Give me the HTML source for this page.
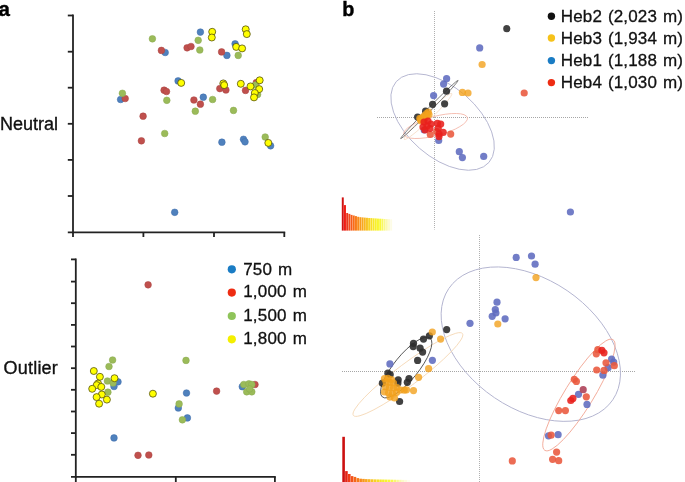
<!DOCTYPE html>
<html><head><meta charset="utf-8"><style>
html,body{margin:0;padding:0;background:#fff;}
body{width:685px;height:482px;position:relative;overflow:hidden;font-family:"Liberation Sans",sans-serif;}
text{font-family:"Liberation Sans",sans-serif;}
</style></head><body>
<svg width="685" height="482" viewBox="0 0 685 482" style="position:absolute;left:0;top:0;will-change:transform">
<rect width="685" height="482" fill="#ffffff"/>
<text x="-1.5" y="15.6" font-weight="bold" font-size="20.5" fill="#000" stroke="#000" stroke-width="0.4">a</text>
<text x="342.2" y="15.7" font-weight="bold" font-size="19.8" fill="#000" stroke="#000" stroke-width="0.4">b</text>
<text x="0.0" y="129.7" font-size="18" fill="#111" stroke="#111" stroke-width="0.35">Neutral</text>
<text x="3.6" y="373.9" font-size="18" letter-spacing="0.2" fill="#111" stroke="#111" stroke-width="0.35">Outlier</text>
<g stroke="#222" stroke-width="1.8" fill="none">
<line x1="73" y1="14.6" x2="73" y2="233.2"/>
<line x1="67.8" y1="15.5" x2="73" y2="15.5"/>
<line x1="67.8" y1="51.7" x2="73" y2="51.7"/>
<line x1="67.8" y1="87.7" x2="73" y2="87.7"/>
<line x1="67.8" y1="123.8" x2="73" y2="123.8"/>
<line x1="67.8" y1="159.9" x2="73" y2="159.9"/>
<line x1="67.8" y1="196.0" x2="73" y2="196.0"/>
<line x1="67.8" y1="232.3" x2="285.2" y2="232.3"/>
<line x1="73" y1="232.3" x2="73" y2="237"/>
<line x1="143.4" y1="232.3" x2="143.4" y2="237"/>
<line x1="214.0" y1="232.3" x2="214.0" y2="237"/>
<line x1="284.3" y1="232.3" x2="284.3" y2="237"/>
</g>
<g stroke="#222" stroke-width="1.8" fill="none">
<line x1="75.8" y1="258.5" x2="75.8" y2="477.8"/>
<line x1="71" y1="259.4" x2="75.8" y2="259.4"/>
<line x1="71" y1="281.6" x2="75.8" y2="281.6"/>
<line x1="71" y1="303.2" x2="75.8" y2="303.2"/>
<line x1="71" y1="324.9" x2="75.8" y2="324.9"/>
<line x1="71" y1="346.5" x2="75.8" y2="346.5"/>
<line x1="71" y1="368.2" x2="75.8" y2="368.2"/>
<line x1="71" y1="389.8" x2="75.8" y2="389.8"/>
<line x1="71" y1="411.5" x2="75.8" y2="411.5"/>
<line x1="71" y1="433.1" x2="75.8" y2="433.1"/>
<line x1="71" y1="454.8" x2="75.8" y2="454.8"/>
<line x1="71" y1="476.9" x2="275.8" y2="476.9"/>
<line x1="75.8" y1="476.9" x2="75.8" y2="483"/>
<line x1="175.8" y1="476.9" x2="175.8" y2="483"/>
<line x1="274.9" y1="476.9" x2="274.9" y2="483"/>
</g>
<circle cx="174.7" cy="212.3" r="3.35" fill="#4F81BD" stroke="#3f6dab" stroke-width="0.5"/>
<circle cx="120.6" cy="99.5" r="3.35" fill="#4F81BD" stroke="#3f6dab" stroke-width="0.5"/>
<circle cx="165.2" cy="52.5" r="3.35" fill="#4F81BD" stroke="#3f6dab" stroke-width="0.5"/>
<circle cx="200.4" cy="32.1" r="3.35" fill="#4F81BD" stroke="#3f6dab" stroke-width="0.5"/>
<circle cx="235.1" cy="43.8" r="3.35" fill="#4F81BD" stroke="#3f6dab" stroke-width="0.5"/>
<circle cx="226.9" cy="55.4" r="3.35" fill="#4F81BD" stroke="#3f6dab" stroke-width="0.5"/>
<circle cx="178.1" cy="80.9" r="3.35" fill="#4F81BD" stroke="#3f6dab" stroke-width="0.5"/>
<circle cx="203.3" cy="97.2" r="3.35" fill="#4F81BD" stroke="#3f6dab" stroke-width="0.5"/>
<circle cx="221.9" cy="142.2" r="3.35" fill="#4F81BD" stroke="#3f6dab" stroke-width="0.5"/>
<circle cx="243.5" cy="139.3" r="3.35" fill="#4F81BD" stroke="#3f6dab" stroke-width="0.5"/>
<circle cx="245.0" cy="141.8" r="3.35" fill="#4F81BD" stroke="#3f6dab" stroke-width="0.5"/>
<circle cx="270.6" cy="145.8" r="3.35" fill="#4F81BD" stroke="#3f6dab" stroke-width="0.5"/>
<circle cx="161.4" cy="50.4" r="3.35" fill="#C0504D" stroke="#a94442" stroke-width="0.5"/>
<circle cx="187.1" cy="47.8" r="3.35" fill="#C0504D" stroke="#a94442" stroke-width="0.5"/>
<circle cx="191.0" cy="46.5" r="3.35" fill="#C0504D" stroke="#a94442" stroke-width="0.5"/>
<circle cx="221.6" cy="51.9" r="3.35" fill="#C0504D" stroke="#a94442" stroke-width="0.5"/>
<circle cx="125.2" cy="98.5" r="3.35" fill="#C0504D" stroke="#a94442" stroke-width="0.5"/>
<circle cx="164.1" cy="90.2" r="3.35" fill="#C0504D" stroke="#a94442" stroke-width="0.5"/>
<circle cx="166.5" cy="91.5" r="3.35" fill="#C0504D" stroke="#a94442" stroke-width="0.5"/>
<circle cx="193.9" cy="100.0" r="3.35" fill="#C0504D" stroke="#a94442" stroke-width="0.5"/>
<circle cx="200.4" cy="104.2" r="3.35" fill="#C0504D" stroke="#a94442" stroke-width="0.5"/>
<circle cx="143.1" cy="116.2" r="3.35" fill="#C0504D" stroke="#a94442" stroke-width="0.5"/>
<circle cx="141.4" cy="140.8" r="3.35" fill="#C0504D" stroke="#a94442" stroke-width="0.5"/>
<circle cx="219.8" cy="88.6" r="3.35" fill="#C0504D" stroke="#a94442" stroke-width="0.5"/>
<circle cx="225.9" cy="90.0" r="3.35" fill="#C0504D" stroke="#a94442" stroke-width="0.5"/>
<circle cx="245.5" cy="90.4" r="3.35" fill="#C0504D" stroke="#a94442" stroke-width="0.5"/>
<circle cx="256.3" cy="82.6" r="3.35" fill="#C0504D" stroke="#a94442" stroke-width="0.5"/>
<circle cx="152.4" cy="38.8" r="3.35" fill="#9BBB59" stroke="#89a94f" stroke-width="0.5"/>
<circle cx="198.2" cy="40.3" r="3.35" fill="#9BBB59" stroke="#89a94f" stroke-width="0.5"/>
<circle cx="199.8" cy="50.0" r="3.35" fill="#9BBB59" stroke="#89a94f" stroke-width="0.5"/>
<circle cx="238.2" cy="55.4" r="3.35" fill="#9BBB59" stroke="#89a94f" stroke-width="0.5"/>
<circle cx="122.4" cy="93.3" r="3.35" fill="#9BBB59" stroke="#89a94f" stroke-width="0.5"/>
<circle cx="166.8" cy="100.3" r="3.35" fill="#9BBB59" stroke="#89a94f" stroke-width="0.5"/>
<circle cx="195.3" cy="111.2" r="3.35" fill="#9BBB59" stroke="#89a94f" stroke-width="0.5"/>
<circle cx="212.6" cy="99.5" r="3.35" fill="#9BBB59" stroke="#89a94f" stroke-width="0.5"/>
<circle cx="164.7" cy="133.5" r="3.35" fill="#9BBB59" stroke="#89a94f" stroke-width="0.5"/>
<circle cx="233.5" cy="110.4" r="3.35" fill="#9BBB59" stroke="#89a94f" stroke-width="0.5"/>
<circle cx="255.5" cy="85.0" r="3.35" fill="#9BBB59" stroke="#89a94f" stroke-width="0.5"/>
<circle cx="257.6" cy="94.5" r="3.35" fill="#9BBB59" stroke="#89a94f" stroke-width="0.5"/>
<circle cx="265.2" cy="137.0" r="3.35" fill="#9BBB59" stroke="#89a94f" stroke-width="0.5"/>
<circle cx="212.2" cy="31.8" r="3.5" fill="#FFFF00" stroke="#55520f" stroke-width="0.8"/>
<circle cx="211.8" cy="37.5" r="3.5" fill="#FFFF00" stroke="#55520f" stroke-width="0.8"/>
<circle cx="245.7" cy="29.3" r="3.5" fill="#FFFF00" stroke="#55520f" stroke-width="0.8"/>
<circle cx="246.8" cy="34.1" r="3.5" fill="#FFFF00" stroke="#55520f" stroke-width="0.8"/>
<circle cx="236.2" cy="46.9" r="3.5" fill="#FFFF00" stroke="#55520f" stroke-width="0.8"/>
<circle cx="242.1" cy="48.4" r="3.5" fill="#FFFF00" stroke="#55520f" stroke-width="0.8"/>
<circle cx="181.2" cy="82.9" r="3.5" fill="#FFFF00" stroke="#55520f" stroke-width="0.8"/>
<circle cx="223.3" cy="83.4" r="3.5" fill="#FFFF00" stroke="#55520f" stroke-width="0.8"/>
<circle cx="224.2" cy="85.1" r="3.5" fill="#FFFF00" stroke="#55520f" stroke-width="0.8"/>
<circle cx="240.8" cy="83.8" r="3.5" fill="#FFFF00" stroke="#55520f" stroke-width="0.8"/>
<circle cx="250.5" cy="86.4" r="3.5" fill="#FFFF00" stroke="#55520f" stroke-width="0.8"/>
<circle cx="259.7" cy="80.3" r="3.5" fill="#FFFF00" stroke="#55520f" stroke-width="0.8"/>
<circle cx="259.2" cy="89.1" r="3.5" fill="#FFFF00" stroke="#55520f" stroke-width="0.8"/>
<circle cx="254.8" cy="93.0" r="3.5" fill="#FFFF00" stroke="#55520f" stroke-width="0.8"/>
<circle cx="254.0" cy="97.4" r="3.5" fill="#FFFF00" stroke="#55520f" stroke-width="0.8"/>
<circle cx="268.3" cy="142.9" r="3.5" fill="#FFFF00" stroke="#55520f" stroke-width="0.8"/>
<circle cx="118.0" cy="381.8" r="3.35" fill="#4F81BD" stroke="#3f6dab" stroke-width="0.5"/>
<circle cx="114.0" cy="386.5" r="3.35" fill="#4F81BD" stroke="#3f6dab" stroke-width="0.5"/>
<circle cx="114.0" cy="437.9" r="3.35" fill="#4F81BD" stroke="#3f6dab" stroke-width="0.5"/>
<circle cx="186.5" cy="393.0" r="3.35" fill="#4F81BD" stroke="#3f6dab" stroke-width="0.5"/>
<circle cx="178.3" cy="408.0" r="3.35" fill="#4F81BD" stroke="#3f6dab" stroke-width="0.5"/>
<circle cx="187.4" cy="417.9" r="3.35" fill="#4F81BD" stroke="#3f6dab" stroke-width="0.5"/>
<circle cx="242.3" cy="386.7" r="3.35" fill="#4F81BD" stroke="#3f6dab" stroke-width="0.5"/>
<circle cx="148.1" cy="284.8" r="3.35" fill="#C0504D" stroke="#a94442" stroke-width="0.5"/>
<circle cx="138.0" cy="455.3" r="3.35" fill="#C0504D" stroke="#a94442" stroke-width="0.5"/>
<circle cx="148.8" cy="455.0" r="3.35" fill="#C0504D" stroke="#a94442" stroke-width="0.5"/>
<circle cx="216.6" cy="391.1" r="3.35" fill="#C0504D" stroke="#a94442" stroke-width="0.5"/>
<circle cx="255.0" cy="384.5" r="3.35" fill="#C0504D" stroke="#a94442" stroke-width="0.5"/>
<circle cx="112.6" cy="360.0" r="3.35" fill="#9BBB59" stroke="#89a94f" stroke-width="0.5"/>
<circle cx="109.0" cy="366.5" r="3.35" fill="#9BBB59" stroke="#89a94f" stroke-width="0.5"/>
<circle cx="107.4" cy="381.0" r="3.35" fill="#9BBB59" stroke="#89a94f" stroke-width="0.5"/>
<circle cx="113.0" cy="383.0" r="3.35" fill="#9BBB59" stroke="#89a94f" stroke-width="0.5"/>
<circle cx="107.9" cy="392.2" r="3.35" fill="#9BBB59" stroke="#89a94f" stroke-width="0.5"/>
<circle cx="186.0" cy="360.4" r="3.35" fill="#9BBB59" stroke="#89a94f" stroke-width="0.5"/>
<circle cx="179.1" cy="403.9" r="3.35" fill="#9BBB59" stroke="#89a94f" stroke-width="0.5"/>
<circle cx="182.4" cy="419.8" r="3.35" fill="#9BBB59" stroke="#89a94f" stroke-width="0.5"/>
<circle cx="243.8" cy="384.5" r="3.35" fill="#9BBB59" stroke="#89a94f" stroke-width="0.5"/>
<circle cx="248.9" cy="383.8" r="3.35" fill="#9BBB59" stroke="#89a94f" stroke-width="0.5"/>
<circle cx="251.8" cy="384.5" r="3.35" fill="#9BBB59" stroke="#89a94f" stroke-width="0.5"/>
<circle cx="246.7" cy="391.8" r="3.35" fill="#9BBB59" stroke="#89a94f" stroke-width="0.5"/>
<circle cx="251.8" cy="391.8" r="3.35" fill="#9BBB59" stroke="#89a94f" stroke-width="0.5"/>
<circle cx="249.6" cy="388.9" r="3.35" fill="#9BBB59" stroke="#89a94f" stroke-width="0.5"/>
<circle cx="93.8" cy="371.0" r="3.5" fill="#FFFF00" stroke="#55520f" stroke-width="0.8"/>
<circle cx="99.9" cy="376.8" r="3.5" fill="#FFFF00" stroke="#55520f" stroke-width="0.8"/>
<circle cx="114.5" cy="378.2" r="3.5" fill="#FFFF00" stroke="#55520f" stroke-width="0.8"/>
<circle cx="98.0" cy="383.5" r="3.5" fill="#FFFF00" stroke="#55520f" stroke-width="0.8"/>
<circle cx="96.7" cy="385.1" r="3.5" fill="#FFFF00" stroke="#55520f" stroke-width="0.8"/>
<circle cx="101.3" cy="386.9" r="3.5" fill="#FFFF00" stroke="#55520f" stroke-width="0.8"/>
<circle cx="92.2" cy="388.8" r="3.5" fill="#FFFF00" stroke="#55520f" stroke-width="0.8"/>
<circle cx="101.8" cy="394.5" r="3.5" fill="#FFFF00" stroke="#55520f" stroke-width="0.8"/>
<circle cx="96.6" cy="397.1" r="3.5" fill="#FFFF00" stroke="#55520f" stroke-width="0.8"/>
<circle cx="106.9" cy="399.6" r="3.5" fill="#FFFF00" stroke="#55520f" stroke-width="0.8"/>
<circle cx="99.1" cy="403.7" r="3.5" fill="#FFFF00" stroke="#55520f" stroke-width="0.8"/>
<circle cx="152.9" cy="393.7" r="3.5" fill="#FFFF00" stroke="#55520f" stroke-width="0.8"/>
<circle cx="231.8" cy="269.3" r="4.1" fill="#1a7cc4"/>
<text x="243.2" y="274.5" font-size="17" letter-spacing="0.2" word-spacing="1" fill="#111" stroke="#111" stroke-width="0.3">750 m</text>
<circle cx="231.8" cy="292.6" r="4.1" fill="#ee2c12"/>
<text x="243.2" y="297.3" font-size="17" letter-spacing="0.2" word-spacing="1" fill="#111" stroke="#111" stroke-width="0.3">1,000 m</text>
<circle cx="231.8" cy="316.0" r="4.1" fill="#8fc45a"/>
<text x="243.2" y="320.6" font-size="17" letter-spacing="0.2" word-spacing="1" fill="#111" stroke="#111" stroke-width="0.3">1,500 m</text>
<circle cx="231.8" cy="339.3" r="4.1" fill="#f4ef00"/>
<text x="243.2" y="343.8" font-size="17" letter-spacing="0.2" word-spacing="1" fill="#111" stroke="#111" stroke-width="0.3">1,800 m</text>
<circle cx="551.4" cy="16.3" r="3.7" fill="#111111"/>
<text x="560.8" y="22.0" font-size="17" letter-spacing="0.15" word-spacing="1" fill="#111" stroke="#111" stroke-width="0.3">Heb2 (2,023 m)</text>
<circle cx="551.4" cy="38.0" r="3.7" fill="#f6c21a"/>
<text x="560.8" y="43.7" font-size="17" letter-spacing="0.15" word-spacing="1" fill="#111" stroke="#111" stroke-width="0.3">Heb3 (1,934 m)</text>
<circle cx="551.4" cy="60.6" r="3.7" fill="#1a7cc4"/>
<text x="560.8" y="66.1" font-size="17" letter-spacing="0.15" word-spacing="1" fill="#111" stroke="#111" stroke-width="0.3">Heb1 (1,188 m)</text>
<circle cx="551.4" cy="82.6" r="3.7" fill="#ee2c12"/>
<text x="560.8" y="87.8" font-size="17" letter-spacing="0.15" word-spacing="1" fill="#111" stroke="#111" stroke-width="0.3">Heb4 (1,030 m)</text>
<line x1="434.5" y1="11" x2="434.5" y2="229.5" stroke="#b0b0b0" stroke-width="1" stroke-dasharray="1 1"/>
<line x1="377" y1="117.5" x2="588" y2="117.5" stroke="#a6a6a6" stroke-width="1" stroke-dasharray="1 1"/>
<rect x="341.80" y="197.40" width="1.95" height="33.20" fill="#d01212"/>
<rect x="344.00" y="205.10" width="1.95" height="25.50" fill="#f01c14"/>
<rect x="346.20" y="213.00" width="1.95" height="17.60" fill="#ea381e"/>
<rect x="348.40" y="213.90" width="1.95" height="16.70" fill="#f04a1e"/>
<rect x="350.60" y="214.90" width="1.95" height="15.70" fill="#f65c1a"/>
<rect x="352.80" y="215.50" width="1.95" height="15.10" fill="#f86c18"/>
<rect x="355.00" y="216.10" width="1.95" height="14.50" fill="#f87a18"/>
<rect x="357.20" y="216.80" width="1.95" height="13.80" fill="#f88a1c"/>
<rect x="359.40" y="217.20" width="1.95" height="13.40" fill="#f89a1e"/>
<rect x="361.60" y="217.40" width="1.95" height="13.20" fill="#f8a820"/>
<rect x="363.80" y="217.60" width="1.95" height="13.00" fill="#f8b622"/>
<rect x="366.00" y="217.80" width="1.95" height="12.80" fill="#f8c424"/>
<rect x="368.20" y="218.00" width="1.95" height="12.60" fill="#f8d226"/>
<rect x="370.40" y="218.10" width="1.95" height="12.50" fill="#f8de28"/>
<rect x="372.60" y="218.30" width="1.95" height="12.30" fill="#f8e82a"/>
<rect x="374.80" y="218.40" width="1.95" height="12.20" fill="#f8f02c"/>
<rect x="377.00" y="218.60" width="1.95" height="12.00" fill="#f8f630"/>
<rect x="379.20" y="218.70" width="1.95" height="11.90" fill="#f8f83a"/>
<rect x="381.40" y="218.80" width="1.95" height="11.80" fill="#f9f860"/>
<rect x="383.60" y="219.00" width="1.95" height="11.60" fill="#faf88a"/>
<rect x="385.80" y="219.10" width="1.95" height="11.50" fill="#fbf9b0"/>
<rect x="388.00" y="219.20" width="1.95" height="11.40" fill="#fcfad0"/>
<rect x="390.20" y="219.30" width="1.95" height="11.30" fill="#fdfce6"/>
<ellipse cx="442.6" cy="122.0" rx="61.5" ry="35.0" transform="rotate(41.04 442.6 122.0)" fill="none" stroke="#b4b5d0" stroke-width="0.9"/>
<ellipse cx="435.6" cy="126.0" rx="32.9" ry="9.6" transform="rotate(-14.8 435.6 126.0)" fill="none" stroke="#f4b6a8" stroke-width="0.8"/>
<ellipse cx="428.0" cy="116.5" rx="33" ry="3.5" transform="rotate(-44 428.0 116.5)" fill="none" stroke="#f6dcc4" stroke-width="0.8"/>
<ellipse cx="429.4" cy="109.5" rx="40.9" ry="1.7" transform="rotate(-45.4 429.4 109.5)" fill="none" stroke="#666666" stroke-width="0.8"/>
<circle cx="506.8" cy="28.7" r="3.6" fill="#2e2e2e" fill-opacity="0.9"/>
<circle cx="446.5" cy="91.2" r="3.6" fill="#2e2e2e" fill-opacity="0.9"/>
<circle cx="432.6" cy="104.3" r="3.6" fill="#2e2e2e" fill-opacity="0.9"/>
<circle cx="444.6" cy="103.8" r="3.6" fill="#2e2e2e" fill-opacity="0.9"/>
<circle cx="425.6" cy="111.2" r="3.6" fill="#2e2e2e" fill-opacity="0.9"/>
<circle cx="417.6" cy="117.0" r="3.6" fill="#2e2e2e" fill-opacity="0.9"/>
<circle cx="482.1" cy="64.5" r="3.6" fill="#f2a11d" fill-opacity="0.8"/>
<circle cx="462.4" cy="92.4" r="3.6" fill="#f2a11d" fill-opacity="0.8"/>
<circle cx="468.0" cy="93.0" r="3.6" fill="#f2a11d" fill-opacity="0.8"/>
<circle cx="420.5" cy="119.5" r="3.6" fill="#f2a11d" fill-opacity="0.8"/>
<circle cx="422.5" cy="117.5" r="3.6" fill="#f2a11d" fill-opacity="0.8"/>
<circle cx="424.5" cy="115.5" r="3.6" fill="#f2a11d" fill-opacity="0.8"/>
<circle cx="426.5" cy="113.5" r="3.6" fill="#f2a11d" fill-opacity="0.8"/>
<circle cx="428.3" cy="112.0" r="3.6" fill="#f2a11d" fill-opacity="0.8"/>
<circle cx="423.0" cy="120.0" r="3.6" fill="#f2a11d" fill-opacity="0.8"/>
<circle cx="425.0" cy="118.0" r="3.6" fill="#f2a11d" fill-opacity="0.8"/>
<circle cx="427.0" cy="116.0" r="3.6" fill="#f2a11d" fill-opacity="0.8"/>
<circle cx="429.0" cy="114.5" r="3.6" fill="#f2a11d" fill-opacity="0.8"/>
<circle cx="419.8" cy="118.3" r="3.6" fill="#f2a11d" fill-opacity="0.8"/>
<circle cx="421.0" cy="121.0" r="3.6" fill="#f2a11d" fill-opacity="0.8"/>
<circle cx="479.7" cy="47.9" r="3.6" fill="#5e6bbf" fill-opacity="0.88"/>
<circle cx="446.6" cy="78.7" r="3.6" fill="#5e6bbf" fill-opacity="0.88"/>
<circle cx="443.6" cy="84.1" r="3.6" fill="#5e6bbf" fill-opacity="0.88"/>
<circle cx="433.6" cy="95.6" r="3.6" fill="#5e6bbf" fill-opacity="0.88"/>
<circle cx="424.2" cy="130.0" r="3.6" fill="#5e6bbf" fill-opacity="0.88"/>
<circle cx="438.7" cy="140.5" r="3.6" fill="#5e6bbf" fill-opacity="0.88"/>
<circle cx="459.3" cy="151.7" r="3.6" fill="#5e6bbf" fill-opacity="0.88"/>
<circle cx="462.4" cy="157.6" r="3.6" fill="#5e6bbf" fill-opacity="0.88"/>
<circle cx="483.7" cy="156.4" r="3.6" fill="#5e6bbf" fill-opacity="0.88"/>
<circle cx="570.4" cy="212.0" r="3.6" fill="#5e6bbf" fill-opacity="0.88"/>
<circle cx="524.2" cy="93.0" r="3.6" fill="#e9583c" fill-opacity="0.88"/>
<circle cx="430.3" cy="134.5" r="3.6" fill="#e9583c" fill-opacity="0.88"/>
<circle cx="450.7" cy="134.1" r="3.6" fill="#e9583c" fill-opacity="0.88"/>
<circle cx="436.6" cy="131.6" r="3.6" fill="#e9583c" fill-opacity="0.88"/>
<circle cx="437.4" cy="123.3" r="3.6" fill="#e8201c" fill-opacity="0.88"/>
<circle cx="440.7" cy="124.1" r="3.6" fill="#e8201c" fill-opacity="0.88"/>
<circle cx="438.2" cy="128.3" r="3.6" fill="#e8201c" fill-opacity="0.88"/>
<circle cx="443.2" cy="132.4" r="3.6" fill="#e8201c" fill-opacity="0.88"/>
<circle cx="439.0" cy="134.0" r="3.6" fill="#e8201c" fill-opacity="0.88"/>
<circle cx="439.0" cy="136.6" r="3.6" fill="#e8201c" fill-opacity="0.88"/>
<circle cx="424.0" cy="122.0" r="3.6" fill="#e8201c" fill-opacity="0.88"/>
<circle cx="428.0" cy="121.0" r="3.6" fill="#e8201c" fill-opacity="0.88"/>
<circle cx="423.0" cy="127.0" r="3.6" fill="#e8201c" fill-opacity="0.88"/>
<circle cx="427.0" cy="126.0" r="3.6" fill="#e8201c" fill-opacity="0.88"/>
<circle cx="431.0" cy="124.0" r="3.6" fill="#e8201c" fill-opacity="0.88"/>
<circle cx="425.0" cy="130.0" r="3.6" fill="#e8201c" fill-opacity="0.88"/>
<circle cx="430.0" cy="128.5" r="3.6" fill="#e8201c" fill-opacity="0.88"/>
<line x1="479.5" y1="235" x2="479.5" y2="482" stroke="#b0b0b0" stroke-width="1" stroke-dasharray="1 1"/>
<line x1="342" y1="371.5" x2="635" y2="371.5" stroke="#a6a6a6" stroke-width="1" stroke-dasharray="1 1"/>
<rect x="342.30" y="436.80" width="2.59" height="45.20" fill="#cc1010"/>
<rect x="345.14" y="471.10" width="2.59" height="10.90" fill="#e42416"/>
<rect x="347.98" y="474.00" width="2.59" height="8.00" fill="#ee3c18"/>
<rect x="350.82" y="476.10" width="2.59" height="5.90" fill="#f2521a"/>
<rect x="353.67" y="476.90" width="2.59" height="5.10" fill="#f4661a"/>
<rect x="356.51" y="478.10" width="2.59" height="3.90" fill="#f6781a"/>
<rect x="359.35" y="478.70" width="2.59" height="3.30" fill="#f8881c"/>
<rect x="362.19" y="478.90" width="2.59" height="3.10" fill="#f8981e"/>
<rect x="365.03" y="479.10" width="2.59" height="2.90" fill="#f8a820"/>
<rect x="367.88" y="479.20" width="2.59" height="2.80" fill="#f8b622"/>
<rect x="370.72" y="479.30" width="2.59" height="2.70" fill="#f8c424"/>
<rect x="373.56" y="479.40" width="2.59" height="2.60" fill="#f8d026"/>
<rect x="376.40" y="479.45" width="2.59" height="2.55" fill="#f8dc28"/>
<rect x="379.24" y="479.50" width="2.59" height="2.50" fill="#f8e62a"/>
<rect x="382.08" y="479.55" width="2.59" height="2.45" fill="#f8ee2c"/>
<rect x="384.93" y="479.60" width="2.59" height="2.40" fill="#f8f430"/>
<rect x="387.77" y="479.65" width="2.59" height="2.35" fill="#f8f63c"/>
<rect x="390.61" y="479.70" width="2.59" height="2.30" fill="#f9f750"/>
<rect x="393.45" y="479.75" width="2.59" height="2.25" fill="#f9f770"/>
<rect x="396.29" y="479.80" width="2.59" height="2.20" fill="#faf890"/>
<rect x="399.13" y="479.80" width="2.59" height="2.20" fill="#fbf9b0"/>
<rect x="401.98" y="479.90" width="2.59" height="2.10" fill="#fcfac8"/>
<rect x="404.82" y="479.90" width="2.59" height="2.10" fill="#fdfbdc"/>
<rect x="407.66" y="480.00" width="2.59" height="2.00" fill="#fefdee"/>
<ellipse cx="530.8" cy="344.15" rx="99.1" ry="64.7" transform="rotate(34.16 530.8 344.15)" fill="none" stroke="#b4b5d0" stroke-width="0.9"/>
<ellipse cx="407.9" cy="374.5" rx="68.2" ry="11.0" transform="rotate(-36.9 407.9 374.5)" fill="none" stroke="#f5d8b6" stroke-width="0.85"/>
<ellipse cx="406.2" cy="367.5" rx="37.9" ry="12.2" transform="rotate(-50.96 406.2 367.5)" fill="none" stroke="#4a4a4a" stroke-width="0.85"/>
<ellipse cx="578.9" cy="395.0" rx="65.0" ry="14.3" transform="rotate(-58.4 578.9 395.0)" fill="none" stroke="#f2a896" stroke-width="0.85"/>
<circle cx="446.7" cy="329.6" r="3.6" fill="#2e2e2e" fill-opacity="0.9"/>
<circle cx="429.4" cy="335.8" r="3.6" fill="#2e2e2e" fill-opacity="0.9"/>
<circle cx="423.5" cy="339.1" r="3.6" fill="#2e2e2e" fill-opacity="0.9"/>
<circle cx="413.5" cy="343.3" r="3.6" fill="#2e2e2e" fill-opacity="0.9"/>
<circle cx="413.2" cy="346.6" r="3.6" fill="#2e2e2e" fill-opacity="0.9"/>
<circle cx="420.1" cy="348.2" r="3.6" fill="#2e2e2e" fill-opacity="0.9"/>
<circle cx="422.6" cy="352.1" r="3.6" fill="#2e2e2e" fill-opacity="0.9"/>
<circle cx="417.6" cy="360.4" r="3.6" fill="#2e2e2e" fill-opacity="0.9"/>
<circle cx="387.9" cy="373.2" r="3.6" fill="#2e2e2e" fill-opacity="0.9"/>
<circle cx="390.2" cy="374.5" r="3.6" fill="#2e2e2e" fill-opacity="0.9"/>
<circle cx="382.4" cy="383.2" r="3.6" fill="#2e2e2e" fill-opacity="0.9"/>
<circle cx="398.2" cy="379.8" r="3.6" fill="#2e2e2e" fill-opacity="0.9"/>
<circle cx="397.9" cy="383.1" r="3.6" fill="#2e2e2e" fill-opacity="0.9"/>
<circle cx="409.0" cy="378.5" r="3.6" fill="#2e2e2e" fill-opacity="0.9"/>
<circle cx="407.3" cy="382.3" r="3.6" fill="#2e2e2e" fill-opacity="0.9"/>
<circle cx="399.6" cy="401.5" r="3.6" fill="#2e2e2e" fill-opacity="0.9"/>
<circle cx="536.0" cy="277.6" r="3.6" fill="#f2a11d" fill-opacity="0.8"/>
<circle cx="497.8" cy="324.0" r="3.6" fill="#f2a11d" fill-opacity="0.8"/>
<circle cx="432.3" cy="332.0" r="3.6" fill="#f2a11d" fill-opacity="0.8"/>
<circle cx="440.6" cy="339.1" r="3.6" fill="#f2a11d" fill-opacity="0.8"/>
<circle cx="428.6" cy="368.7" r="3.6" fill="#f2a11d" fill-opacity="0.8"/>
<circle cx="418.6" cy="377.3" r="3.6" fill="#f2a11d" fill-opacity="0.8"/>
<circle cx="406.5" cy="389.8" r="3.6" fill="#f2a11d" fill-opacity="0.8"/>
<circle cx="413.5" cy="390.6" r="3.6" fill="#f2a11d" fill-opacity="0.8"/>
<circle cx="384.5" cy="378.5" r="3.6" fill="#f2a11d" fill-opacity="0.8"/>
<circle cx="388.0" cy="378.3" r="3.6" fill="#f2a11d" fill-opacity="0.8"/>
<circle cx="391.5" cy="379.5" r="3.6" fill="#f2a11d" fill-opacity="0.8"/>
<circle cx="386.0" cy="382.0" r="3.6" fill="#f2a11d" fill-opacity="0.8"/>
<circle cx="390.0" cy="382.5" r="3.6" fill="#f2a11d" fill-opacity="0.8"/>
<circle cx="393.5" cy="383.0" r="3.6" fill="#f2a11d" fill-opacity="0.8"/>
<circle cx="385.5" cy="387.0" r="3.6" fill="#f2a11d" fill-opacity="0.8"/>
<circle cx="389.5" cy="387.5" r="3.6" fill="#f2a11d" fill-opacity="0.8"/>
<circle cx="393.5" cy="388.0" r="3.6" fill="#f2a11d" fill-opacity="0.8"/>
<circle cx="397.0" cy="387.5" r="3.6" fill="#f2a11d" fill-opacity="0.8"/>
<circle cx="384.5" cy="392.0" r="3.6" fill="#f2a11d" fill-opacity="0.8"/>
<circle cx="388.5" cy="393.0" r="3.6" fill="#f2a11d" fill-opacity="0.8"/>
<circle cx="392.5" cy="393.5" r="3.6" fill="#f2a11d" fill-opacity="0.8"/>
<circle cx="396.5" cy="392.5" r="3.6" fill="#f2a11d" fill-opacity="0.8"/>
<circle cx="390.0" cy="397.0" r="3.6" fill="#f2a11d" fill-opacity="0.8"/>
<circle cx="394.5" cy="398.0" r="3.6" fill="#f2a11d" fill-opacity="0.8"/>
<circle cx="400.5" cy="390.0" r="3.6" fill="#f2a11d" fill-opacity="0.8"/>
<circle cx="404.2" cy="390.2" r="3.6" fill="#f2a11d" fill-opacity="0.8"/>
<circle cx="516.2" cy="257.4" r="3.6" fill="#5e6bbf" fill-opacity="0.88"/>
<circle cx="531.5" cy="256.0" r="3.6" fill="#5e6bbf" fill-opacity="0.88"/>
<circle cx="535.1" cy="264.2" r="3.6" fill="#5e6bbf" fill-opacity="0.88"/>
<circle cx="497.0" cy="302.2" r="3.6" fill="#5e6bbf" fill-opacity="0.88"/>
<circle cx="495.3" cy="309.5" r="3.6" fill="#5e6bbf" fill-opacity="0.88"/>
<circle cx="495.9" cy="313.0" r="3.6" fill="#5e6bbf" fill-opacity="0.88"/>
<circle cx="492.2" cy="316.3" r="3.6" fill="#5e6bbf" fill-opacity="0.88"/>
<circle cx="505.1" cy="318.8" r="3.6" fill="#5e6bbf" fill-opacity="0.88"/>
<circle cx="470.0" cy="323.3" r="3.6" fill="#5e6bbf" fill-opacity="0.88"/>
<circle cx="389.9" cy="363.9" r="3.6" fill="#5e6bbf" fill-opacity="0.88"/>
<circle cx="432.4" cy="360.3" r="3.6" fill="#5e6bbf" fill-opacity="0.88"/>
<circle cx="611.6" cy="359.0" r="3.6" fill="#5e6bbf" fill-opacity="0.88"/>
<circle cx="613.7" cy="362.1" r="3.6" fill="#5e6bbf" fill-opacity="0.88"/>
<circle cx="608.1" cy="367.7" r="3.6" fill="#5e6bbf" fill-opacity="0.88"/>
<circle cx="602.9" cy="375.2" r="3.6" fill="#5e6bbf" fill-opacity="0.88"/>
<circle cx="578.5" cy="394.3" r="3.6" fill="#5e6bbf" fill-opacity="0.88"/>
<circle cx="587.0" cy="404.4" r="3.6" fill="#5e6bbf" fill-opacity="0.88"/>
<circle cx="548.5" cy="435.8" r="3.6" fill="#5e6bbf" fill-opacity="0.88"/>
<circle cx="558.1" cy="434.7" r="3.6" fill="#5e6bbf" fill-opacity="0.88"/>
<circle cx="597.8" cy="349.7" r="3.6" fill="#e9583c" fill-opacity="0.88"/>
<circle cx="596.3" cy="353.8" r="3.6" fill="#e9583c" fill-opacity="0.88"/>
<circle cx="606.0" cy="362.8" r="3.6" fill="#e9583c" fill-opacity="0.88"/>
<circle cx="614.3" cy="365.7" r="3.6" fill="#e9583c" fill-opacity="0.88"/>
<circle cx="596.7" cy="370.0" r="3.6" fill="#e9583c" fill-opacity="0.88"/>
<circle cx="604.0" cy="370.4" r="3.6" fill="#e9583c" fill-opacity="0.88"/>
<circle cx="574.3" cy="379.3" r="3.6" fill="#e9583c" fill-opacity="0.88"/>
<circle cx="576.4" cy="381.4" r="3.6" fill="#e9583c" fill-opacity="0.88"/>
<circle cx="586.3" cy="396.8" r="3.6" fill="#e9583c" fill-opacity="0.88"/>
<circle cx="558.7" cy="410.6" r="3.6" fill="#e9583c" fill-opacity="0.88"/>
<circle cx="565.4" cy="410.6" r="3.6" fill="#e9583c" fill-opacity="0.88"/>
<circle cx="551.1" cy="435.2" r="3.6" fill="#e9583c" fill-opacity="0.88"/>
<circle cx="556.6" cy="452.1" r="3.6" fill="#e9583c" fill-opacity="0.88"/>
<circle cx="552.6" cy="459.3" r="3.6" fill="#e9583c" fill-opacity="0.88"/>
<circle cx="558.7" cy="460.7" r="3.6" fill="#e9583c" fill-opacity="0.88"/>
<circle cx="512.3" cy="460.9" r="3.6" fill="#e9583c" fill-opacity="0.88"/>
<circle cx="601.9" cy="350.3" r="3.6" fill="#e8201c" fill-opacity="0.88"/>
<circle cx="604.0" cy="352.8" r="3.6" fill="#e8201c" fill-opacity="0.88"/>
<circle cx="570.8" cy="400.5" r="3.6" fill="#e8201c" fill-opacity="0.88"/>
<circle cx="572.9" cy="398.4" r="3.6" fill="#e8201c" fill-opacity="0.88"/>
<circle cx="583.2" cy="389.7" r="3.6" fill="#b0465c" fill-opacity="0.92"/>
</svg>
</body></html>
